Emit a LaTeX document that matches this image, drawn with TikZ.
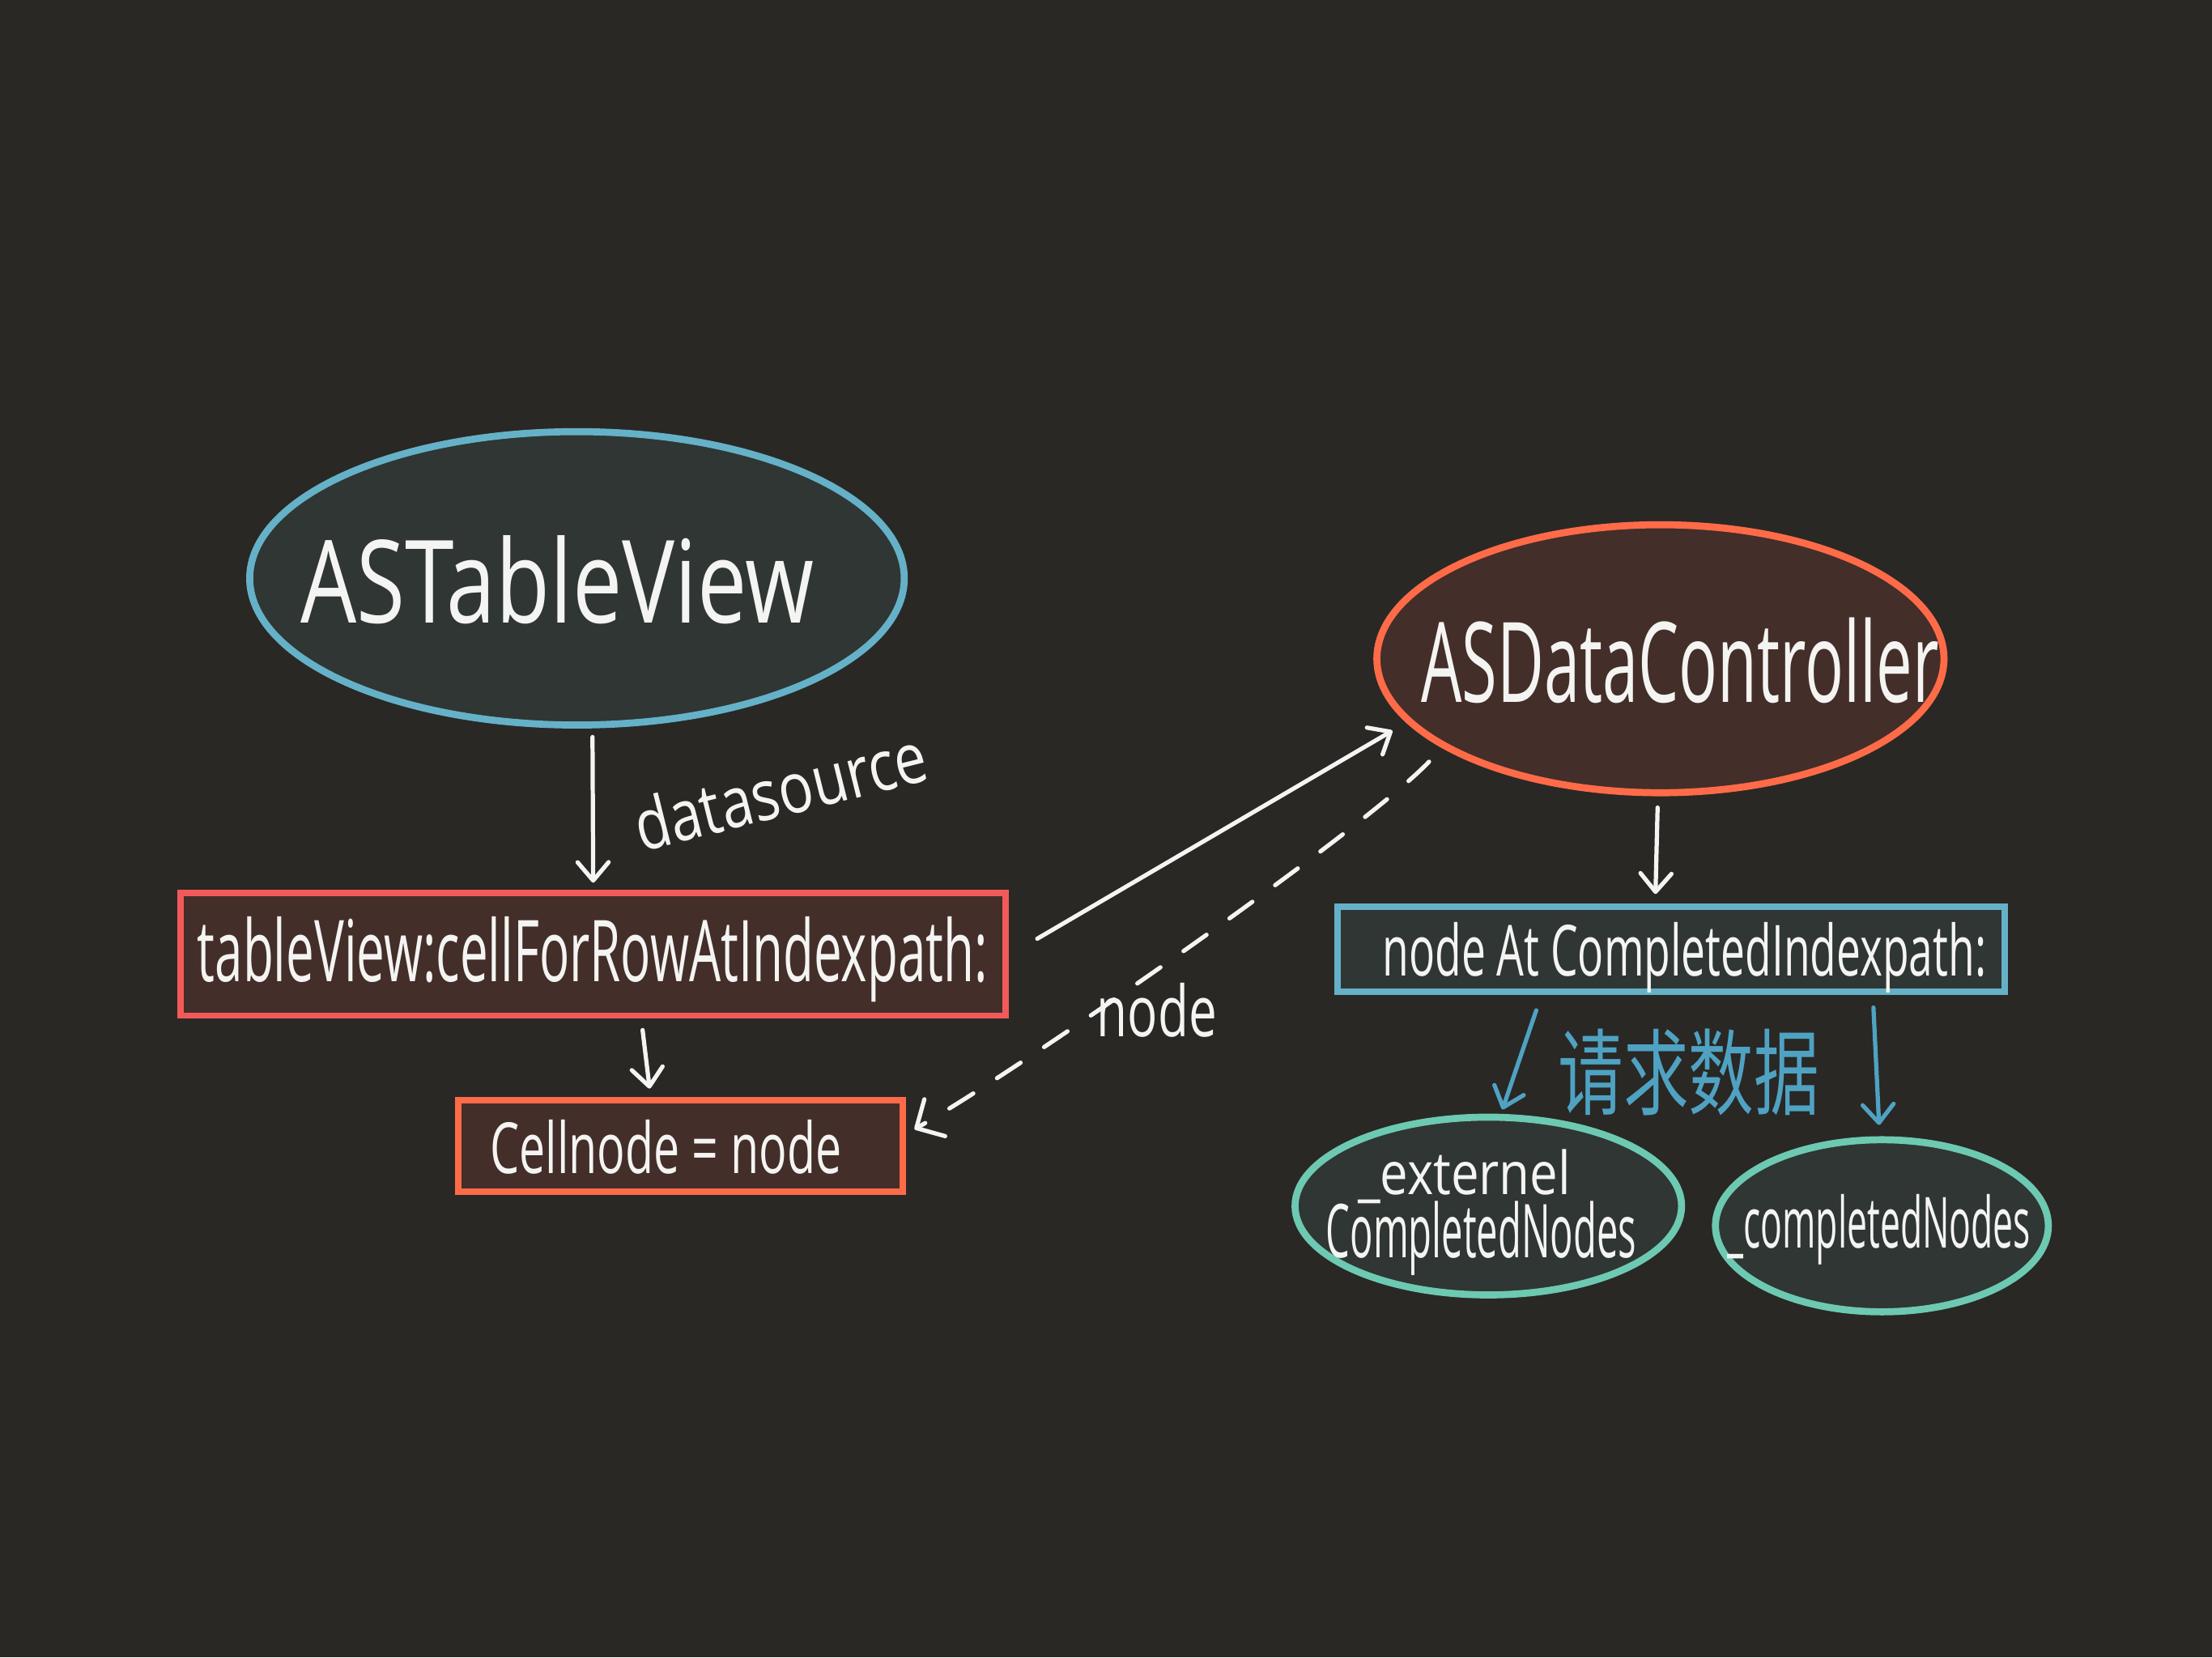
\documentclass[tikz,border=0pt]{standalone}
\usepackage{fontspec}
\setmainfont{Open Sans}
\newfontfamily\cjkfont{Noto Sans CJK SC}
\usetikzlibrary{arrows.meta,calc,shapes.geometric}
\newcommand\hw[3]{\resizebox{#1pt}{#2pt}{#3}}
\definecolor{bgc}{HTML}{292825}
\definecolor{fillteal}{HTML}{2F3633}
\definecolor{fillbrown}{HTML}{432E29}
\definecolor{lblue}{HTML}{65B1C8}
\definecolor{dblue}{HTML}{4FA2C2}
\definecolor{redr}{HTML}{F25A5A}
\definecolor{orng}{HTML}{FF6B48}
\definecolor{tealc}{HTML}{6DC9B1}
\definecolor{chalk}{HTML}{F4F4F2}
\begin{document}
\begin{tikzpicture}[x=1pt,y=-1pt,
  oval/.style={ellipse,draw,line width=5pt,inner sep=0pt},
  box/.style={rectangle,draw,line width=4.5pt,inner sep=0pt},
  txt/.style={text=chalk,inner sep=0pt},
  arr/.style={draw=chalk,line width=3pt,line cap=round,-{Straight Barb[length=13pt,width=22pt,round]}},
  barr/.style={draw=dblue,line width=3pt,line cap=round,-{Straight Barb[length=13pt,width=22pt,round]}},
  dasharr/.style={draw=chalk,line width=3pt,line cap=round,dash pattern=on 20pt off 20pt,-{Straight Barb[length=15pt,width=30pt,round]}}
]
\fill[bgc] (0,0) rectangle (1568,1175);
\useasboundingbox (0,0) rectangle (1568,1175);

% ellipses
\node[oval,draw=lblue,fill=fillteal,minimum width=464pt,minimum height=208pt] (tv) at (409,410) {};
\node[oval,draw=orng,fill=fillbrown,minimum width=402pt,minimum height=190pt] (dc) at (1177,467) {};
\node[oval,draw=tealc,fill=fillteal,minimum width=274pt,minimum height=126pt] (ext) at (1055,855) {};
\node[oval,draw=tealc,fill=fillteal,minimum width=236pt,minimum height=122pt] (comp) at (1334,869) {};

% boxes
\node[box,draw=redr,fill=fillbrown,minimum width=585pt,minimum height=87pt] (tbox) at (420.5,676.5) {};
\node[box,draw=orng,fill=fillbrown,minimum width=315pt,minimum height=65pt] (cell) at (482.5,812.5) {};
\node[box,draw=lblue,fill=fillteal,minimum width=473pt,minimum height=60pt] (na) at (1184.5,673) {};

% texts
\node[txt] (tvt) at (395,411) {\hw{364}{62}{ASTableView}};
\node[txt] (dct) at (1191,468) {\hw{367}{60}{ASDataController}};
\node[txt] (tbt) at (420,680) {\hw{560}{46}{tableView:cellForRowAtIndexpath:}};
\node[txt] (cellt) at (472,813) {\hw{249}{38}{Cellnode = node}};
\node[txt] (nat) at (1194,679) {\hw{428}{38}{node At CompletedIndexpath:}};
\node[txt] (ext1) at (1038,834) {\hw{151}{32}{\_externel}};
\node[txt] (ext2) at (1050,878) {\hw{220}{40}{CompletedNodes}};
\node[txt] (compt) at (1332,872) {\hw{215}{38}{\_completedNodes}};
\node[txt,rotate=14] (dst) at (553,560) {\hw{212}{38}{datasource}};
\node[txt] (nodet) at (820,716) {\hw{85}{38}{node}};
\node[inner sep=0pt,text=dblue] (req) at (1197,760) {\hw{185}{56}{\cjkfont 请求数据}};

% connectors
\draw[arr] ($(tv.south)+(11,6)$) -- ($(tbox.north)+(0,-5)$);
\draw[arr] ($(tbox.south)+(35,8)$) -- ($(cell.north)+(-22,-6)$);
\draw[arr] ($(tbox.east)+(20,-11)$) -- ($(dc.center)+(-190,51)$);
\draw[dasharr] ($(dc.center)+(-164,73)$) .. controls (965,590) and (720,760) .. ($(cell.east)+(6,-12)$);
\draw[arr] ($(dc.south)+(-2,8)$) -- ($(na.north)+(-11,-7)$);
\draw[barr] ($(na.south)+(-95.5,11)$) -- ($(ext.north)+(10,-3)$);
\draw[barr] ($(na.south)+(143.5,9)$) -- ($(comp.north)+(-2,-8)$);
\end{tikzpicture}
\end{document}
